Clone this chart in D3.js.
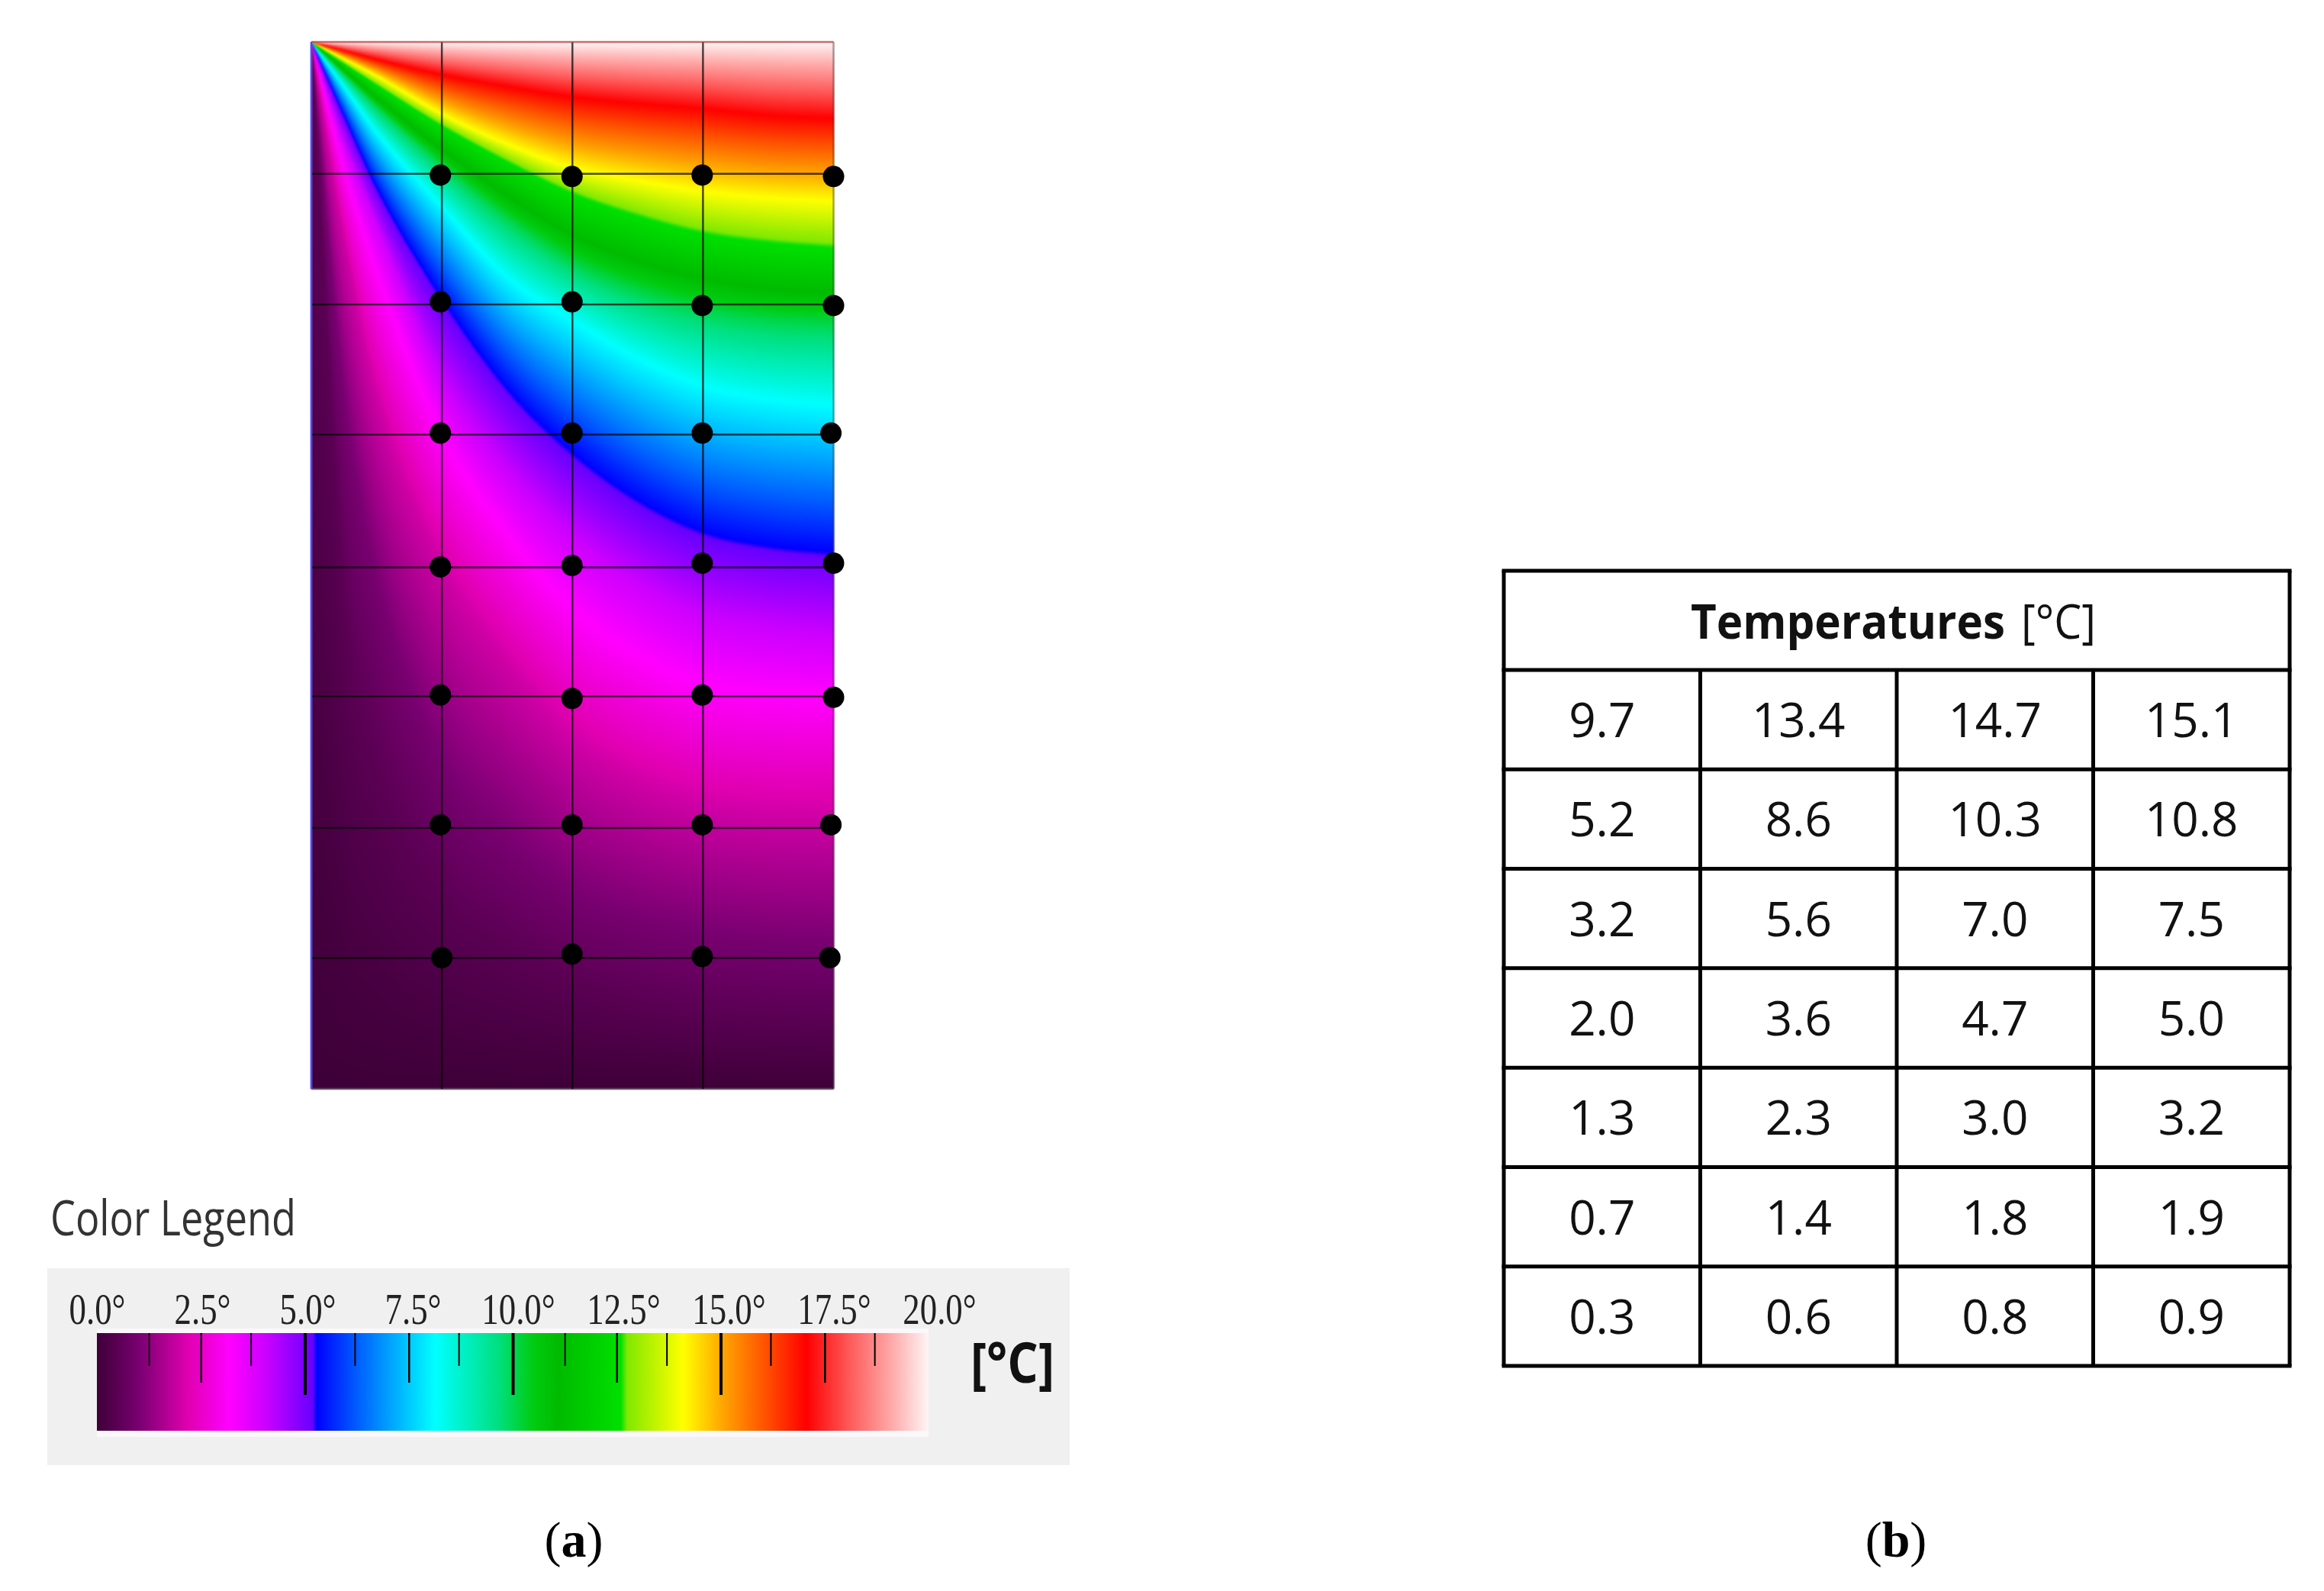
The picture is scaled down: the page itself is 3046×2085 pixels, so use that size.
<!DOCTYPE html>
<html>
<head>
<meta charset="utf-8">
<title>Temperature field and sensor table</title>
<style>
body { margin: 0; background: #fff; position: relative; width: 3046px; height: 2085px; overflow: hidden; }
canvas { position: absolute; filter: blur(1px); }
svg { position: absolute; left: 0; top: 0; }
.cell { font-family: "Open Sans", sans-serif; font-size: 62px; fill: #111; text-anchor: middle; }
.panel { font-family: "Liberation Serif", serif; font-size: 66px; fill: #000; text-anchor: middle; }
</style>
<script src="https://d3js.org/d3.v7.min.js"></script>
</head>
<body>
<script>
// colour legend (deg C and colour)
var colorStops = [0, 1, 2.2, 3.18, 4.04, 5.2, 5.27, 6.2, 7.2, 8.13, 9.65, 10.5, 11.1, 12.6, 12.75, 14.1, 15.05, 16.1, 17.06, 18.1, 19.2, 20];
var colorValues = ["#3e0038", "#780070", "#e000b0", "#ff00ff", "#cc00ff", "#6600ff", "#0000ff", "#0058ff", "#00b0ff", "#00ffff", "#00e080", "#00cc10", "#00bb00", "#00e000", "#80e800", "#ffff00", "#ffa500", "#ff5000", "#ff0000", "#ff5a5a", "#ffb0b0", "#fff5f5"];
var legendLabels = [0, 2.5, 5, 7.5, 10, 12.5, 15, 17.5, 20];
var majorTicks = [5, 10, 15];
var midTicks = [2.5, 7.5, 12.5, 17.5];
var minorTicks = [1.25, 3.7, 6.2, 8.7, 11.25, 13.7, 16.2, 18.7];

// table (b)
var tableTitle = "Temperatures";
var tableUnit = "[°C]";
var tableRows = [
  ["9.7", "13.4", "14.7", "15.1"],
  ["5.2", "8.6", "10.3", "10.8"],
  ["3.2", "5.6", "7.0", "7.5"],
  ["2.0", "3.6", "4.7", "5.0"],
  ["1.3", "2.3", "3.0", "3.2"],
  ["0.7", "1.4", "1.8", "1.9"],
  ["0.3", "0.6", "0.8", "0.9"]
];

// the field: depth of each isotherm (rows) at each station across the width (columns)
var stations = [0, 0.25, 0.5, 1, 1.5, 2, 2.5, 3, 3.5, 4];
var isoLevels = [20, 17.06, 14.1, 12.7, 10, 8.13, 5.27, 4, 3.18, 2, 1, 0.5, 0];
var isoDepths = [
  [0, 0, 0, 0, 0, 0, 0, 0, 0, 0],
  [0, 0.066, 0.133, 0.25, 0.34, 0.42, 0.47, 0.51, 0.56, 0.585],
  [0, 0.128, 0.26, 0.55, 0.78, 0.96, 1.06, 1.14, 1.19, 1.215],
  [0, 0.16, 0.32, 0.63, 0.9, 1.14, 1.31, 1.44, 1.51, 1.55],
  [0, 0.25, 0.5, 0.95, 1.36, 1.7, 1.92, 2.06, 2.14, 2.17],
  [0, 0.34, 0.69, 1.26, 1.8, 2.13, 2.42, 2.63, 2.73, 2.78],
  [0, 0.57, 1.12, 1.96, 2.65, 3.14, 3.5, 3.74, 3.85, 3.9],
  [0, 0.77, 1.4, 2.6, 3.3, 3.8, 4.15, 4.4, 4.5, 4.55],
  [0, 0.96, 1.75, 3.0, 3.75, 4.32, 4.68, 4.9, 4.97, 5.0],
  [0, 1.5, 2.7, 4.0, 4.75, 5.33, 5.65, 5.83, 5.9, 5.92],
  [0, 2.7, 4.1, 5.5, 6.1, 6.5, 6.7, 6.8, 6.87, 6.9],
  [0, 4.2, 5.5, 6.5, 6.9, 7.15, 7.3, 7.4, 7.43, 7.45],
  [8, 8, 8, 8, 8, 8, 8, 8, 8, 8]
];

// grid lines and sensor dots in model units (4 wide, 8 deep)
var gridX = [0, 1, 2, 3, 4];
var gridY = [0, 1.008, 2.006, 3, 4.015, 5, 6.006, 7, 8];
var sensorX = [
  [0.989, 1.997, 2.994, 4.0],
  [0.989, 1.997, 2.994, 4.0],
  [0.989, 1.997, 2.994, 3.98],
  [0.989, 1.997, 2.994, 4.0],
  [0.989, 1.997, 2.994, 4.0],
  [0.989, 1.997, 2.994, 3.98],
  [1.0, 1.997, 2.994, 3.972]
];
var sensorY = [
  [1.017, 1.028, 1.017, 1.028],
  [1.986, 1.986, 2.014, 2.014],
  [2.989, 2.989, 2.989, 2.989],
  [4.011, 4.0, 3.983, 3.983],
  [4.99, 5.016, 4.99, 5.008],
  [5.982, 5.982, 5.982, 5.982],
  [6.997, 6.97, 6.989, 6.997]
];

var x = d3.scaleLinear().domain([0, 4]).range([408, 1092.5]);
var y = d3.scaleLinear().domain([0, 8]).range([55, 1427]);
var color = d3.scaleLinear().domain(colorStops).range(colorValues);
var legendX = d3.scaleLinear().domain([0, 20]).range([127, 1217]);
var labelX = d3.scaleLinear().domain([0, 20]).range([127, 1231]);

// smooth curve through one isotherm's stations (hermite, so the kinks go away)
function smoothDepth(row) {
  var slopes = d3.pairs(stations).map(function(p, i) {
    return (row[i + 1] - row[i]) / (p[1] - p[0]);
  });
  var tangents = stations.map(function(s, i) {
    if (i === 0) return slopes[0];
    if (i === stations.length - 1) return slopes[i - 1];
    return (slopes[i - 1] + slopes[i]) / 2;
  });
  return function(v) {
    var i = Math.min(d3.bisectRight(stations, v) - 1, stations.length - 2);
    var h = stations[i + 1] - stations[i], t = (v - stations[i]) / h;
    return (2*t*t*t - 3*t*t + 1) * row[i] + (t*t*t - 2*t*t + t) * h * tangents[i]
      + (-2*t*t*t + 3*t*t) * row[i + 1] + (t*t*t - t*t) * h * tangents[i + 1];
  };
}

// paint the field column by column
var fieldW = Math.round(x(4) - x(0)), fieldH = Math.round(y(8) - y(0));
var canvas = d3.select("body").append("canvas")
    .attr("width", fieldW)
    .attr("height", fieldH)
    .style("left", x(0) + "px")
    .style("top", y(0) + "px");
var ctx = canvas.node().getContext("2d");
var image = ctx.createImageData(fieldW, fieldH);
var xPixel = d3.scaleLinear().domain([0, fieldW]).range([0, 4]);
var yPixel = d3.scaleLinear().domain([0, fieldH]).range([0, 8]);
var depthAt = isoDepths.map(smoothDepth);
for (var i = 0; i < fieldW; i++) {
  var xu = xPixel(i + 0.5);
  var column = d3.scaleLinear()
      .domain(depthAt.map(function(s) { return s(xu); }))
      .range(isoLevels)
      .clamp(true);
  for (var j = 0; j < fieldH; j++) {
    var c = d3.rgb(color(column(yPixel(j + 0.5))));
    var k = (j * fieldW + i) * 4;
    image.data[k] = c.r;
    image.data[k + 1] = c.g;
    image.data[k + 2] = c.b;
    image.data[k + 3] = 255;
  }
}
ctx.putImageData(image, 0, 0);

var svg = d3.select("body").append("svg")
    .attr("width", 3046)
    .attr("height", 2085);

// grid
svg.append("g")
    .selectAll("line")
    .data(gridX)
  .enter().append("line")
    .attr("x1", x)
    .attr("x2", x)
    .attr("y1", y(0))
    .attr("y2", y(8))
    .attr("stroke", "#000")
    .attr("stroke-opacity", function(d) { return d === 0 ? 0 : d === 4 ? 0.35 : 0.7; })
    .attr("stroke-width", 2.5);
svg.append("g")
    .selectAll("line")
    .data(gridY)
  .enter().append("line")
    .attr("x1", x(0))
    .attr("x2", x(4))
    .attr("y1", y)
    .attr("y2", y)
    .attr("stroke", function(d) { return d === 0 ? "#b03030" : "#000"; })
    .attr("stroke-opacity", function(d) { return d === 8 ? 0.35 : 0.7; })
    .attr("stroke-width", 2.5);
svg.append("line")
    .attr("x1", x(0))
    .attr("x2", x(0))
    .attr("y1", y(0))
    .attr("y2", y(8))
    .attr("stroke", "#4a4aff")
    .attr("stroke-width", 2.5);

// sensors
var sensorG = svg.append("g");
sensorX.forEach(function(row, r) {
  sensorG.selectAll("circle.row" + r)
      .data(row)
    .enter().append("circle")
      .attr("class", "row" + r)
      .attr("cx", function(d) { return x(d); })
      .attr("cy", function(d, i) { return y(sensorY[r][i]); })
      .attr("r", 14)
      .attr("fill", "#000");
});

// legend
svg.append("text")
    .attr("x", 66)
    .attr("y", 1619)
    .attr("font-family", "Open Sans, sans-serif")
    .attr("font-size", 64)
    .attr("fill", "#333")
    .attr("textLength", 322)
    .attr("lengthAdjust", "spacingAndGlyphs")
    .text("Color Legend");
svg.append("rect")
    .attr("x", 62)
    .attr("y", 1662)
    .attr("width", 1340)
    .attr("height", 258)
    .attr("fill", "#f0f0f0");
var grad = svg.append("defs").append("linearGradient")
    .attr("id", "legendGrad");
grad.selectAll("stop")
    .data(colorStops)
  .enter().append("stop")
    .attr("offset", function(d) { return d / 20; })
    .attr("stop-color", function(d) { return color(d); });
// pale halo of the screenshot around the bar
svg.append("rect")
    .attr("x", legendX(0))
    .attr("y", 1741)
    .attr("width", legendX(20) - legendX(0))
    .attr("height", 142)
    .attr("fill", "#fbf8fb");
svg.append("rect")
    .attr("x", legendX(0))
    .attr("y", 1747)
    .attr("width", legendX(20) - legendX(0))
    .attr("height", 128)
    .attr("fill", "url(#legendGrad)");

function tickRow(values, size, width) {
  var g = svg.append("g")
      .attr("transform", "translate(0,1747)")
      .call(d3.axisBottom(legendX).tickValues(values).tickSize(size).tickFormat(""));
  g.select(".domain").remove();
  g.selectAll("line").attr("stroke", "#000").attr("stroke-width", width);
}
tickRow(minorTicks, 43, 2);
tickRow(midTicks, 65, 2.5);
tickRow(majorTicks, 81, 4);

var labelAxis = svg.append("g")
    .attr("transform", "translate(0,1735)")
    .call(d3.axisTop(labelX)
      .tickValues(legendLabels)
      .tickSize(0)
      .tickPadding(0)
      .tickFormat(function(d) { return d.toFixed(1) + "°"; }));
labelAxis.select(".domain").remove();
labelAxis.selectAll("text")
    .attr("font-family", "Liberation Serif, serif")
    .attr("font-size", 56)
    .attr("fill", "#222")
    .attr("transform", "scale(0.8,1)");

svg.append("text")
    .attr("x", 1272)
    .attr("y", 1812)
    .attr("font-family", "Open Sans, sans-serif")
    .attr("font-weight", "bold")
    .attr("font-size", 74)
    .attr("fill", "#111")
    .attr("textLength", 110)
    .attr("lengthAdjust", "spacingAndGlyphs")
    .text("[°C]");

// table
var tableX = d3.scaleLinear().domain([0, 4]).range([1971, 3001]);
var tableY = d3.scaleLinear().domain([0, 7]).range([878, 1790]);
var rowIdx = d3.range(tableRows.length + 1);
var colIdx = d3.range(tableRows[0].length + 1);
var tableG = svg.append("g").attr("stroke", "#000").attr("stroke-width", 5);
tableG.selectAll("line.h")
    .data(rowIdx)
  .enter().append("line")
    .attr("class", "h")
    .attr("x1", tableX(0) - 2.5)
    .attr("x2", tableX(4) + 2.5)
    .attr("y1", tableY)
    .attr("y2", tableY);
tableG.selectAll("line.v")
    .data(colIdx)
  .enter().append("line")
    .attr("class", "v")
    .attr("x1", tableX)
    .attr("x2", tableX)
    .attr("y1", function(d) { return d === 0 || d === 4 ? 748 : tableY(0); })
    .attr("y2", tableY(7));
tableG.append("line")
    .attr("x1", tableX(0) - 2.5)
    .attr("x2", tableX(4) + 2.5)
    .attr("y1", 748)
    .attr("y2", 748);

svg.append("text")
    .attr("class", "cell")
    .attr("x", 2422)
    .attr("y", 837)
    .attr("font-weight", "bold")
    .attr("textLength", 412)
    .attr("lengthAdjust", "spacingAndGlyphs")
    .text(tableTitle);
svg.append("text")
    .attr("class", "cell")
    .attr("x", 2698)
    .attr("y", 837)
    .attr("textLength", 98)
    .attr("lengthAdjust", "spacingAndGlyphs")
    .text(tableUnit);

tableRows.forEach(function(row, r) {
  svg.append("g").selectAll("text")
      .data(row)
    .enter().append("text")
      .attr("class", "cell")
      .attr("x", function(d, i) { return tableX(i + 0.5); })
      .attr("y", tableY(r + 0.5) + 23)
      .text(function(d) { return d; });
});

// panel captions
[["a", 752], ["b", 2485]].forEach(function(p) {
  var t = svg.append("text")
      .attr("class", "panel")
      .attr("x", p[1])
      .attr("y", 2040);
  t.append("tspan").text("(");
  t.append("tspan").attr("font-weight", "bold").text(p[0]);
  t.append("tspan").text(")");
});
</script>
</body>
</html>
